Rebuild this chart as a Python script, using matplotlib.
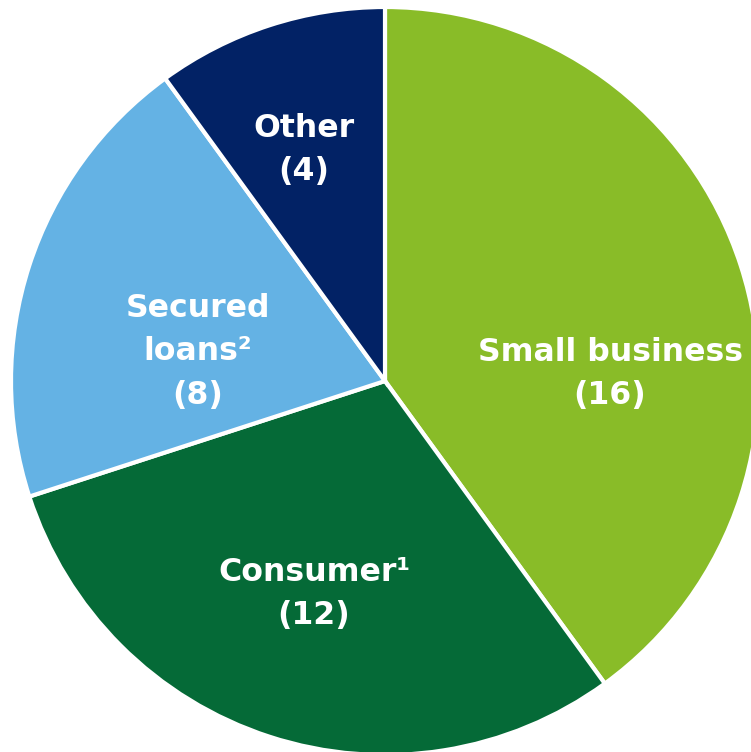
import matplotlib
matplotlib.use("Agg")
import matplotlib.pyplot as plt

labels = ["Small business\n(16)", "Consumer\u00b9\n(12)", "Secured\nloans\u00b2\n(8)", "Other\n(4)"]
values = [16, 12, 8, 4]
colors = ["#89BC28", "#056A37", "#64B2E4", "#022265"]
# label block centres in pixel coords (x, y from top)
label_pos = [(610, 374), (314, 594), (198, 352), (304, 150)]

W, H = 751, 752
fig = plt.figure(figsize=(W / 100, H / 100), dpi=100)
ax = fig.add_axes([0, 0, 1, 1])

ax.pie(values, colors=colors, startangle=90, counterclock=False,
       center=(385, H - 381), radius=374, frame=True,
       wedgeprops=dict(edgecolor="white", linewidth=3))
ax.set_xlim(0, W)
ax.set_ylim(0, H)
ax.set_aspect("auto")
ax.axis("off")

for lab, (x, y) in zip(labels, label_pos):
    ax.text(x, H - y, lab, ha="center", va="center", color="white",
            fontsize=22.7, fontweight="bold", family="DejaVu Sans",
            linespacing=1.54)

fig.savefig("out.png", dpi=100)
